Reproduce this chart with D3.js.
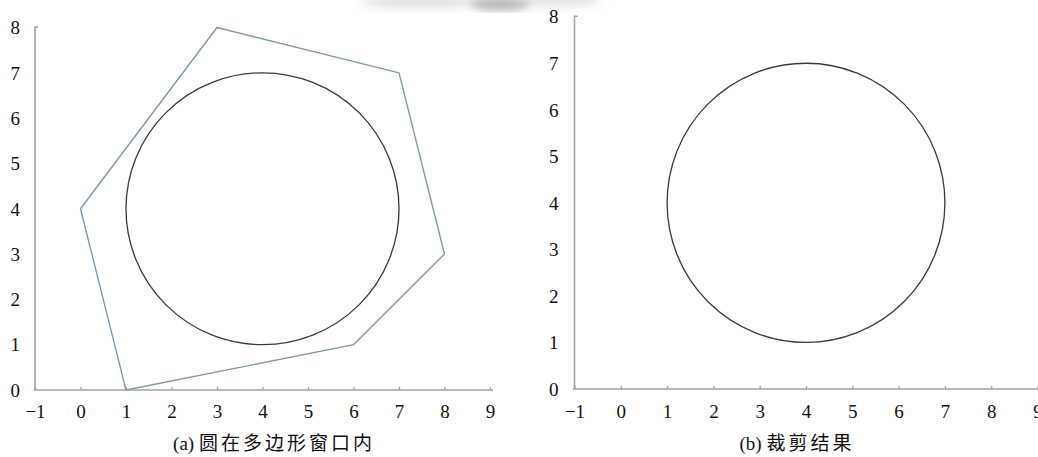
<!DOCTYPE html>
<html>
<head>
<meta charset="utf-8">
<script src="https://cdn.jsdelivr.net/npm/d3@7"></script>
<style>
  body { margin: 0; background: #fff; }
  svg { display: block; }
</style>
</head>
<body>
<div class="container"></div>
<script>
// data
var xTicks = [-1, 0, 1, 2, 3, 4, 5, 6, 7, 8, 9];
var yTicks = [0, 1, 2, 3, 4, 5, 6, 7, 8];
var polygonX = [1, 0, 3, 7, 8, 6];
var polygonY = [0, 4, 8, 7, 3, 1];
var circleCenter = [4, 4];
var circleRadius = 3;
var captions = ["(a) ", "圆在多边形窗口内", "(b) ", "裁剪结果"];

var W = 1038, H = 457;
var axisColor = "#a79f9f";
var latin = "'Liberation Serif', 'Times New Roman', serif";
var cjk = "'Noto Sans CJK SC', sans-serif";

var svg = d3.select("div.container").append("svg")
    .attr("width", W)
    .attr("height", H);

// faint smudge at top (scan artefact)
var defs = svg.append("defs");
defs.append("filter").attr("id", "blur")
    .append("feGaussianBlur").attr("stdDeviation", 4);
var smudge = svg.append("g").attr("filter", "url(#blur)").attr("fill", "#c9c9c9");
smudge.append("ellipse").attr("cx", 420).attr("cy", 2).attr("rx", 60).attr("ry", 6).attr("opacity", 0.6);
smudge.append("ellipse").attr("cx", 500).attr("cy", 4).attr("rx", 30).attr("ry", 7).attr("fill", "#9a9a9a").attr("opacity", 0.7);
smudge.append("ellipse").attr("cx", 560).attr("cy", 0).attr("rx", 40).attr("ry", 6).attr("opacity", 0.6);

function panel(opt) {
    var x = d3.scaleLinear().domain([-1, 9]).range([opt.x0, opt.x1]);
    var y = d3.scaleLinear().domain([0, 8]).range([opt.y0, opt.y1]);
    var g = svg.append("g");

    // x axis
    var xa = g.append("g")
        .attr("transform", "translate(0," + opt.y0 + ")")
        .call(d3.axisBottom(x).tickValues(xTicks).tickSizeInner(-3).tickSizeOuter(0)
            .tickFormat(d3.format("d")));
    xa.select(".domain").attr("stroke", axisColor).attr("stroke-width", 1.6)
        .attr("d", "M" + (opt.x0 - 1.5) + ",0H" + opt.xEnd);
    xa.selectAll(".tick line").attr("stroke", axisColor).attr("stroke-width", 1.3);
    xa.selectAll(".tick text")
        .attr("y", opt.labelY).attr("dy", 0)
        .attr("fill", "#111")
        .style("font-family", latin).style("font-size", "19px");

    // y axis
    var ya = g.append("g")
        .attr("transform", "translate(" + opt.x0 + ",0)")
        .call(d3.axisLeft(y).tickValues(yTicks).tickSize(0).tickPadding(opt.yPad)
            .tickFormat(d3.format("d")));
    ya.select(".domain").attr("stroke", axisColor).attr("stroke-width", 1.6)
        .attr("d", "M3," + (opt.y1 - 0.5) + "H0V" + opt.y0);
    ya.selectAll(".tick text")
        .attr("dy", "0.33em")
        .attr("fill", "#111")
        .style("font-family", latin).style("font-size", "19px");

    // circle
    g.append("ellipse")
        .attr("cx", x(circleCenter[0]))
        .attr("cy", y(circleCenter[1]))
        .attr("rx", x(circleRadius) - x(0))
        .attr("ry", y(0) - y(circleRadius))
        .attr("fill", "none")
        .attr("stroke", "#3a3a3a")
        .attr("stroke-width", 1.3);

    // caption
    var t = g.append("text")
        .attr("x", opt.capX).attr("y", 450)
        .attr("text-anchor", "middle")
        .attr("fill", "#111");
    t.append("tspan").style("font-family", latin).style("font-size", "19px").text(opt.cap[0]);
    t.append("tspan").style("font-family", cjk).style("font-size", "19px")
        .style("letter-spacing", "3px").text(opt.cap[1]);

    return { g: g, x: x, y: y };
}

var left = panel({ x0: 35, x1: 490, y0: 390, y1: 27.5, xEnd: 493, labelY: 28, yPad: 15,
    capX: 274, cap: [captions[0], captions[1]] });
var right = panel({ x0: 574.5, x1: 1037.5, y0: 389, y1: 16.7, xEnd: 1038, labelY: 29, yPad: 16,
    capX: 797, cap: [captions[2], captions[3]] });

// polygon window in panel (a)
var pts = polygonX.map(function (d, i) { return [d, polygonY[i]]; });
var line = d3.line()
    .x(function (d) { return left.x(d[0]); })
    .y(function (d) { return left.y(d[1]); })
    .curve(d3.curveLinearClosed);
left.g.append("path")
    .attr("d", line(pts))
    .attr("fill", "none")
    .attr("stroke", "#7f9ba8")
    .attr("stroke-width", 1.4)
    .attr("stroke-linejoin", "round");
</script>
</body>
</html>
